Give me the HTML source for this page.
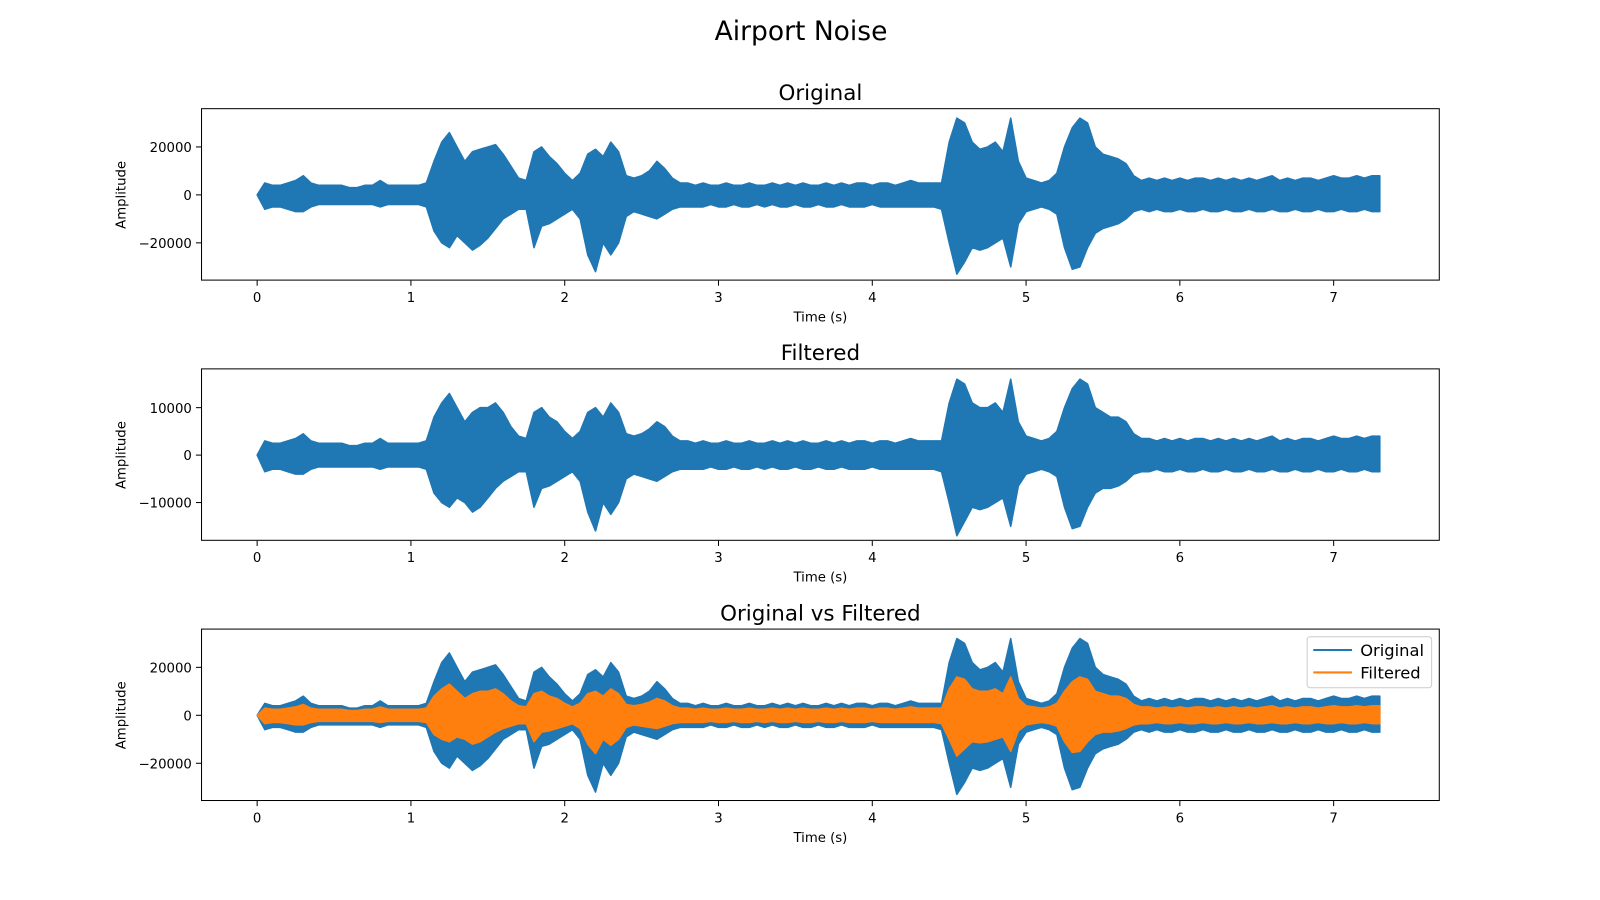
<!DOCTYPE html>
<html><head><meta charset="utf-8"><style>
html,body{margin:0;padding:0;background:#fff;overflow:hidden;}
svg{display:block;font-family:"DejaVu Sans","Liberation Sans",sans-serif;}
</style></head><body>
<svg id="chart" width="1600" height="900" viewBox="0 0 1568 882" preserveAspectRatio="none" xmlns="http://www.w3.org/2000/svg">
<text x="785" y="39" font-size="26" text-anchor="middle">Airport Noise</text>
</svg>
<script>
// Time bins (s), step 0.05 from 0 to 7.30
const times = Array.from({length:147},(_,i)=>+(i*0.05).toFixed(2));
// Original signal envelope (thousands), upper and lower magnitude
const origUpper = [0,5,4,4,5,6,8,5,4,4,4,4,3,3,4,4,6,4,4,4,4,4,5,14,22,26,20,14,18,19,20,21,17,12,7,6,18,20,16,13,9,6,9,17,19,16,22,18,8,7,8,10,14,11,7,5,5,
4,5,4,4,5,4,4,5,4,4,5,4,5,4,5,4,4,5,4,5,4,5,5,4,5,5,4,5,6,5,5,5,5,
22,32,30,22,19,20,22,18,32,14,7,6,5,6,9,20,28,32,30,20,17,16,15,13,8,6,
7,6,7,6,7,6,7,7,6,7,6,7,6,7,6,7,8,6,7,6,7,7,6,7,8,7,7,8,7,8,8];
const origLower = [0,6,5,5,6,7,7,5,4,4,4,4,4,4,4,4,5,4,4,4,4,4,5,15,20,22,17,20,23,21,18,14,10,8,6,6,22,13,12,10,8,6,10,25,32,20,25,20,9,7,8,9,10,8,6,5,5,
5,5,4,5,5,4,5,5,4,5,4,5,5,4,5,5,4,5,5,4,5,5,5,4,5,5,5,5,5,5,5,5,6,
20,33,28,22,23,22,20,18,30,12,7,6,5,6,8,22,31,30,22,16,14,13,12,10,7,6,
7,6,7,7,6,7,7,6,7,7,6,7,7,6,7,7,6,7,7,6,7,7,6,7,7,6,7,7,6,7,7];
// Filtered signal envelope (thousands)
const filtUpper = [0,3,2.5,2.5,3,3.5,4.5,3,2.5,2.5,2.5,2.5,2,2,2.5,2.5,3.5,2.5,2.5,2.5,2.5,2.5,3,8,11,13,10,7,9,10,10,11,9,6,4,3.5,9,10,8,7,5,3.5,5,9,10,8,11,9,4.5,4,4.5,5.5,7,6,4,3,3,
2.5,3,2.5,2.5,3,2.5,2.5,3,2.5,2.5,3,2.5,3,2.5,3,2.5,2.5,3,2.5,3,2.5,3,3,2.5,3,3,2.5,3,3.5,3,3,3,3,
11,16,15,11,10,10,11,9,16,7,4,3.5,3,3.5,5,10,14,16,15,10,9,8,8,7,4.5,3.5,
3.5,3,3.5,3,3.5,3,3.5,3.5,3,3.5,3,3.5,3,3.5,3,3.5,4,3,3.5,3,3.5,3.5,3,3.5,4,3.5,3.5,4,3.5,4,4];
const filtLower = [0,3.5,3,3,3.5,4,4,3,2.5,2.5,2.5,2.5,2.5,2.5,2.5,2.5,3,2.5,2.5,2.5,2.5,2.5,3,8,10,11,9,10,12,11,9,7,5.5,4.5,3.5,3.5,11,7,6.5,5.5,4.5,3.5,5.5,12,16,10,12.5,10,5,4,4.5,5,5.5,4.5,3.5,3,3,
3,3,2.5,3,3,2.5,3,3,2.5,3,2.5,3,3,2.5,3,3,2.5,3,3,2.5,3,3,3,2.5,3,3,3,3,3,3,3,3,3.5,
10,17,14,11,11.5,11,10,9,15,6.5,4,3.5,3,3.5,4.5,11,15.5,15,11,8,7,7,6.5,5.5,4,3.5,
3.5,3,3.5,3.5,3,3.5,3.5,3,3.5,3.5,3,3.5,3.5,3,3.5,3.5,3,3.5,3.5,3,3.5,3.5,3,3.5,3.5,3,3.5,3.5,3,3.5,3.5];
const xTicks = [0,1,2,3,4,5,6,7];
const yTicksWide = [-20000,0,20000];
const yTicksNarrow = [-10000,0,10000];
const yTickLabelsWide = ["\u221220000","0","20000"];
const yTickLabelsNarrow = ["\u221210000","0","10000"];

const NS="http://www.w3.org/2000/svg";
const svg=document.getElementById('chart');
function mk(tag,attrs,parent){const e=document.createElementNS(NS,tag);for(const k in attrs)e.setAttribute(k,attrs[k]);(parent||svg).appendChild(e);return e;}
const X0=197,X1=1411;
function xs(t){return 252+t*150.71;}

function panel(top,title,yPer,ticks,labels,series,legend){
  const bottom=top+169, zero=top+85;
  const ys=v=>zero-v*yPer;
  const g=mk('g',{});
  
  
  const clipId='c'+top;
  const cp=mk('clipPath',{id:clipId},g);mk('rect',{x:X0,y:top,width:X1-X0,height:169},cp);
  const tt=mk('text',{x:804,y:top-8,'font-size':21,'text-anchor':'middle'},g);tt.textContent=title;
  
  
  series.forEach(s=>{
    let d='';
    times.forEach((t,i)=>{d+=(i?'L':'M')+xs(t).toFixed(1)+','+ys(s.up[i]*1000).toFixed(1);});
    for(let i=times.length-1;i>=0;i--){d+='L'+xs(times[i]).toFixed(1)+','+ys(-s.lo[i]*1000).toFixed(1);}
    d+='Z';
    const p=mk('path',{d:d,fill:s.color,stroke:s.color,'stroke-width':1.5,'stroke-linejoin':'round','clip-path':'url(#'+clipId+')'},g);
    
    
  });
  const fr=mk('rect',{x:X0+0.5,y:top+0.5,width:X1-X0-1,height:168,fill:'none',stroke:'#000','stroke-width':1},g);
  
  
  xTicks.forEach(t=>{
    mk('line',{x1:xs(t),x2:xs(t),y1:bottom,y2:bottom+5,stroke:'#000'},g);
    const l=mk('text',{x:xs(t),y:bottom+21,'font-size':13,'text-anchor':'middle'},g);l.textContent=t;
    
    
  });
  ticks.forEach((v,i)=>{
    mk('line',{x1:X0-5,x2:X0,y1:ys(v),y2:ys(v),stroke:'#000'},g);
    const l=mk('text',{x:X0-9,y:ys(v)+5,'font-size':13,'text-anchor':'end'},g);l.textContent=labels[i];
    
    
  });
  const xl=mk('text',{x:804,y:bottom+40,'font-size':13,'text-anchor':'middle'},g);xl.textContent='Time (s)';
  
  
  const yl=mk('text',{x:0,y:0,'font-size':13,'text-anchor':'middle',transform:'translate(123,'+zero+') rotate(-90)'},g);yl.textContent='Amplitude';
  
  
  if(legend){
    const lg=mk('g',{},g);
    
    
    mk('rect',{x:1281,y:624,width:122,height:50,rx:3,fill:'#fff','fill-opacity':0.8,stroke:'#ccc'},lg);
    series.forEach((s,i)=>{
      const yy=637+i*22;
      mk('line',{x1:1287,x2:1325,y1:yy,y2:yy,stroke:s.color,'stroke-width':2},lg);
      const t=mk('text',{x:1333,y:yy+6,'font-size':16},lg);t.textContent=s.label;
      
      
    });
  }
}
const blue='#1f77b4',orange='#ff7f0e';
panel(106,'Original',47/20000,yTicksWide,yTickLabelsWide,[{name:'original',label:'Original',color:blue,up:origUpper,lo:origLower}],false);
panel(361,'Filtered',46.5/10000,yTicksNarrow,yTickLabelsNarrow,[{name:'filtered',label:'Filtered',color:blue,up:filtUpper,lo:filtLower}],false);
panel(616,'Original vs Filtered',47/20000,yTicksWide,yTickLabelsWide,[{name:'original',label:'Original',color:blue,up:origUpper,lo:origLower},{name:'filtered',label:'Filtered',color:orange,up:filtUpper,lo:filtLower}],true);
</script>
</body></html>
